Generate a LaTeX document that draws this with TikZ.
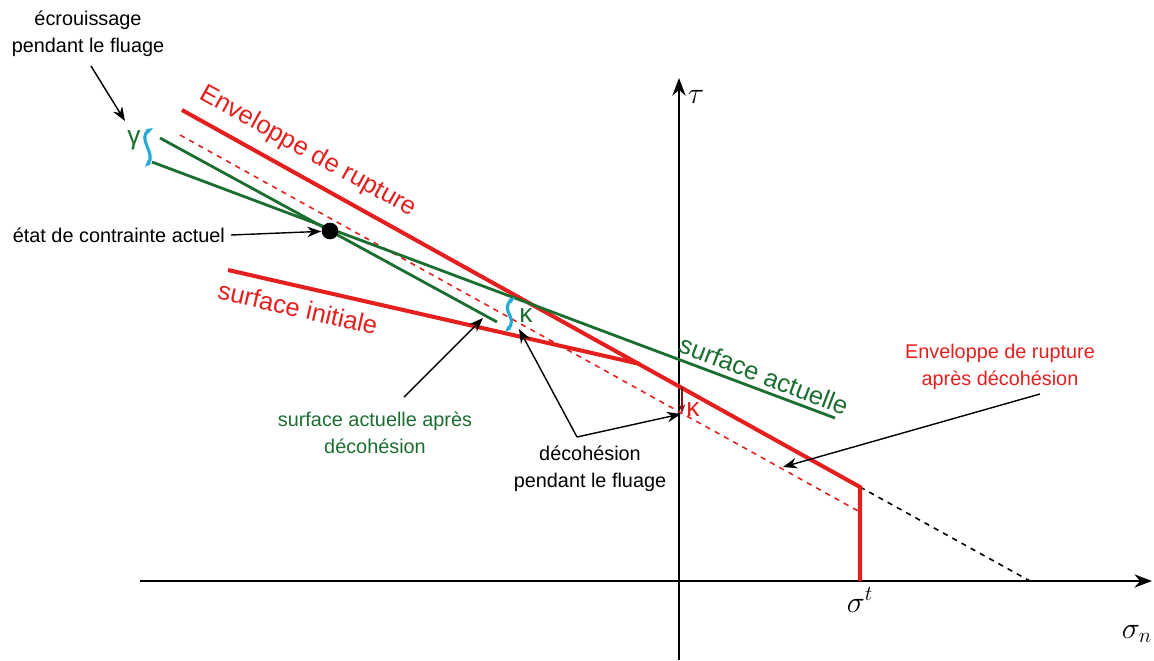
\documentclass[tikz,border=0pt]{standalone}
\usepackage{fontspec}
\setmainfont{Liberation Sans}
\usetikzlibrary{arrows.meta, positioning, calc}
\definecolor{envred}{RGB}{228,32,30}
\definecolor{surfgreen}{RGB}{28,110,48}
\definecolor{curlcyan}{RGB}{40,170,215}
\tikzset{
  axis/.style     = {-{Stealth[length=10pt]}, line width=1.3pt},
  redline/.style  = {envred, line width=2.3pt},
  greenline/.style= {surfgreen, line width=1.6pt},
  reddash/.style  = {envred, dashed, line width=0.9pt},
  arrow/.style    = {-{Stealth[length=8pt]}, line width=0.8pt},
  lbl/.style      = {align=center, font=\fontsize{11.3}{15.5}\selectfont},
  biglbl/.style   = {font=\fontsize{14.5}{17}\selectfont},
  greek/.style    = {font=\fontsize{15}{17}\selectfont},
  curl/.style     = {curlcyan, {Stealth[length=4pt]}-{Stealth[length=4pt]}, line width=1.8pt},
}

\begin{document}
\begin{tikzpicture}[x=0.02cm, y=-0.02cm]
  \useasboundingbox (0,0) rectangle (1154,660);
  % axes
  \coordinate (taubot) at (679,660);
  \coordinate (tautop) at (679,78);
  \coordinate (sigL)   at (140,581);
  \coordinate (sigR)   at (1152,581);
  \draw[axis] (taubot) -- (tautop);
  \draw[axis] (sigL) -- (sigR);
  \node[font=\LARGE] (tau)  at (696,97)   {$\tau$};
  \node[font=\LARGE] (sign) at (1137,634) {$\sigma_n$};
  \node[font=\LARGE] (sigt) at (860,600)  {$\sigma^t$};

  % enveloppes
  \coordinate (env1)   at (182,110);
  \coordinate (env2)   at (860,487);
  \coordinate (envbot) at (860,581);
  \coordinate (envend) at (1030,581);
  \coordinate (ini1)   at (228,270);
  \coordinate (ini2)   at (640,364);
  \coordinate (dec1)   at (180,135);
  \coordinate (dec2)   at (860,512);
  \draw[dashed, line width=0.9pt] (env2) -- (envend);
  \draw[reddash] (dec1) -- (dec2);
  \draw[redline] (ini1) -- (ini2);
  \draw[redline] (env1) -- (env2) -- (envbot);

  % surfaces actuelles
  \coordinate (act1) at (152,162);
  \coordinate (act2) at (835,418);
  \coordinate (apd1) at (160,138);
  \coordinate (apd2) at (497,322);
  \draw[greenline] (act1) -- (act2);
  \draw[greenline] (apd1) -- (apd2);
  \node[circle, fill=black, inner sep=0pt, minimum size=9.5pt] (etat) at (330,231) {};

  % textes le long des courbes
  \node[envred, biglbl, rotate=-29] (envlbl) at (308,152) {Enveloppe de rupture};
  \node[envred, biglbl, rotate=-13] (inilbl) at (298,308) {surface initiale};
  \node[surfgreen, biglbl, rotate=-21] (actlbl) at (764,375) {surface actuelle};

  % gamma et kappa
  \node[surfgreen, greek] (gamma) at (134,140) {γ};
  \draw[curl] (153,128) .. controls (136,138) and (157,154) .. (145,167);
  \node[surfgreen, greek] (kg) at (526,316) {κ};
  \draw[curl] (515,297) .. controls (499,310) and (519,318) .. (505,332);
  \node[envred, greek] (kr) at (693,410) {κ};
  \coordinate (kr1) at (682,387);
  \coordinate (kr2) at (682,413);
  \draw[-{Stealth[length=5pt]}, envred!60!black, line width=1pt] (kr1) -- (kr2);

  % annotations
  \node[lbl] (ecrou) at (88,34) {écrouissage\\pendant le fluage};
  \coordinate (ecroustart) at (91,66);
  \coordinate (ecroutip)   at (125,121);
  \draw[arrow] (ecroustart) -- (ecroutip);

  \node[lbl, anchor=east] (etatlbl) at (231,235) {état de contrainte actuel};
  \draw[arrow] (etatlbl.east) -- (etat);

  \node[lbl, surfgreen] (apdlbl) at (375,433) {surface actuelle après\\décohésion};
  \coordinate (apdstart) at (404,397);
  \coordinate (apdtip)   at (483,318);
  \draw[arrow] (apdstart) -- (apdtip);

  \node[lbl] (decohlbl) at (590,469) {décohésion\\pendant le fluage};
  \coordinate (vtx)   at (577,437);
  \coordinate (dtip1) at (519,329);
  \coordinate (dtip2) at (681,414);
  \draw[arrow] (vtx) -- (dtip1);
  \draw[arrow] (vtx) -- (dtip2);

  \node[lbl, envred] (envdlbl) at (1000,367) {Enveloppe de rupture\\après décohésion};
  \coordinate (envdstart) at (1040,394);
  \coordinate (envdtip)   at (783,467);
  \draw[arrow] (envdstart) -- (envdtip);
\end{tikzpicture}
\end{document}
